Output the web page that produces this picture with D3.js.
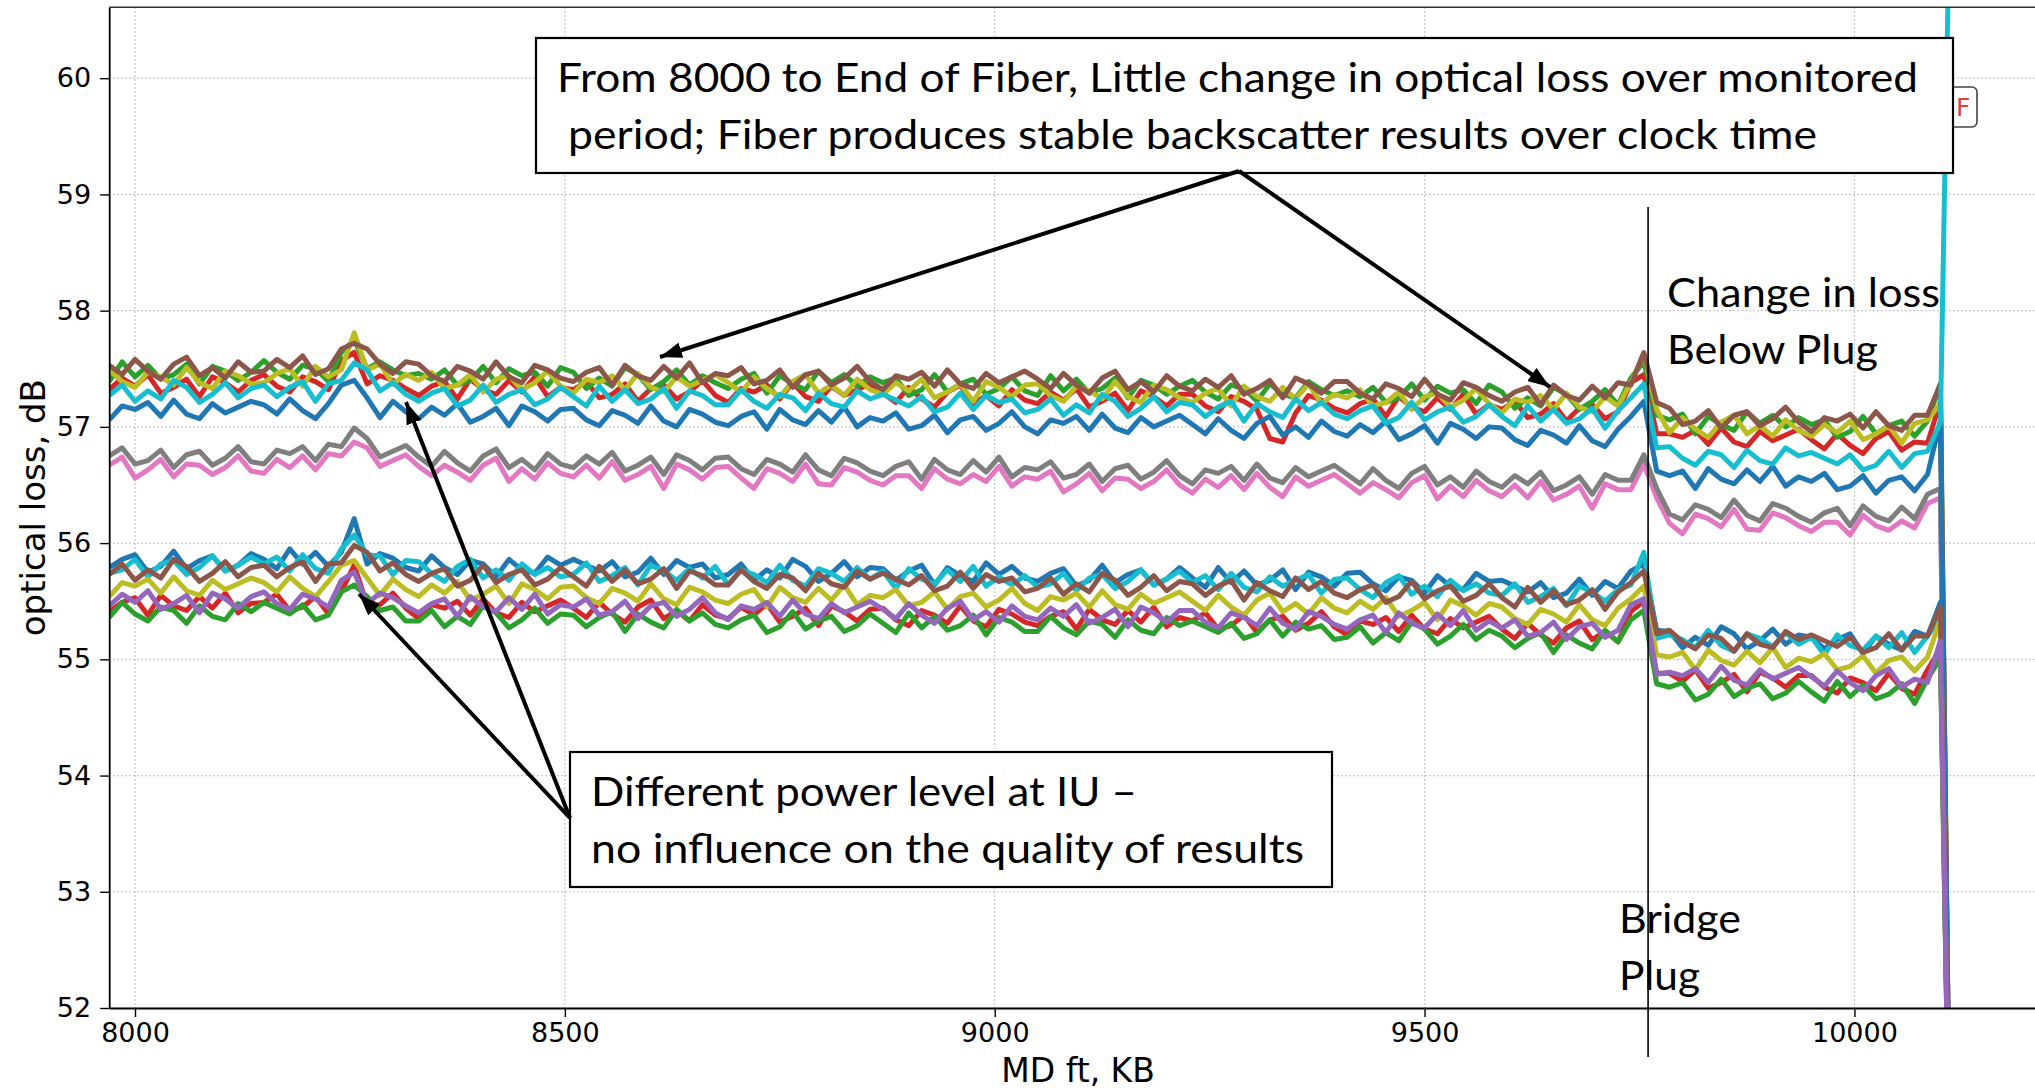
<!DOCTYPE html>
<html><head><meta charset="utf-8">
<script src="https://cdn.jsdelivr.net/npm/d3@7"></script>
<style>html,body{margin:0;padding:0;background:#fff;} svg{display:block;}</style>
</head><body>
<svg id="chart" width="2035" height="1090"></svg>
<script>
// ---------- DATA ----------
const depthStart = 7970, depthStep = 15, depthEnd = 10100, fiberEndDepth = 10112;
const depthFt = d3.range(depthStart, depthEnd + 1, depthStep).concat([fiberEndDepth]);
const xTicks = [8000, 8500, 9000, 9500, 10000];
const yTicks = [52, 53, 54, 55, 56, 57, 58, 59, 60];
const bridgePlugDepth = 9760;

const upperPink = [
56.67,56.74,56.56,56.63,56.72,56.57,56.68,56.67,56.59,56.65,56.75,56.62,
56.60,56.72,56.65,56.75,56.63,56.77,56.75,56.87,56.82,56.66,56.71,56.76,
56.66,56.58,56.67,56.61,56.54,56.67,56.73,56.53,56.64,56.55,56.69,56.60,
56.57,56.67,56.56,56.70,56.54,56.59,56.66,56.47,56.68,56.63,56.55,56.65,
56.66,56.56,56.47,56.64,56.60,56.53,56.68,56.51,56.50,56.65,56.61,56.54,
56.50,56.58,56.58,56.47,56.64,56.55,56.51,56.59,56.53,56.66,56.49,56.57,
56.55,56.62,56.44,56.51,56.60,56.45,56.56,56.55,56.47,56.53,56.63,56.50,
56.43,56.55,56.48,56.58,56.46,56.60,56.48,56.40,56.57,56.49,56.54,56.59,
56.51,56.43,56.52,56.46,56.39,56.52,56.58,56.38,56.49,56.40,56.54,56.45,
56.40,56.50,56.39,56.53,56.37,56.42,56.49,56.30,56.51,56.46,56.46,56.68,
56.39,56.17,56.08,56.25,56.21,56.14,56.29,56.12,56.11,56.26,56.22,56.15,
56.10,56.18,56.18,56.07,56.24,56.15,56.11,56.19,56.13,56.34,56.39,50];
const upperGray = [
56.75,56.82,56.68,56.71,56.80,56.65,56.76,56.79,56.67,56.73,56.83,56.70,
56.68,56.80,56.77,56.83,56.71,56.85,56.83,56.99,56.90,56.74,56.79,56.84,
56.74,56.66,56.79,56.69,56.62,56.75,56.81,56.65,56.72,56.63,56.77,56.68,
56.65,56.75,56.68,56.78,56.62,56.67,56.74,56.59,56.76,56.71,56.63,56.73,
56.74,56.64,56.59,56.72,56.68,56.61,56.76,56.63,56.58,56.73,56.69,56.62,
56.58,56.66,56.70,56.55,56.72,56.63,56.59,56.71,56.61,56.74,56.57,56.65,
56.63,56.70,56.56,56.59,56.68,56.53,56.64,56.67,56.55,56.61,56.71,56.58,
56.51,56.63,56.60,56.66,56.54,56.68,56.56,56.52,56.65,56.57,56.62,56.67,
56.59,56.51,56.64,56.54,56.47,56.60,56.66,56.50,56.57,56.48,56.62,56.53,
56.48,56.58,56.51,56.61,56.45,56.50,56.57,56.42,56.59,56.54,56.54,56.76,
56.47,56.25,56.20,56.33,56.29,56.22,56.37,56.24,56.19,56.34,56.30,56.23,
56.18,56.26,56.30,56.15,56.32,56.23,56.19,56.31,56.21,56.42,56.47,50];
const upperRed = [
57.32,57.42,57.35,57.45,57.29,57.34,57.41,57.26,57.43,57.38,57.30,57.40,
57.45,57.35,57.30,57.43,57.39,57.32,57.57,57.64,57.37,57.44,57.40,57.33,
57.27,57.35,57.39,57.24,57.41,57.32,57.28,57.40,57.30,57.43,57.26,57.34,
57.32,57.39,57.25,57.28,57.37,57.22,57.33,57.36,57.24,57.30,57.40,57.27,
57.21,57.33,57.30,57.36,57.24,57.38,57.26,57.22,57.35,57.27,57.32,57.37,
57.29,57.21,57.34,57.24,57.17,57.30,57.36,57.20,57.27,57.18,57.32,57.23,
57.20,57.30,57.23,57.33,57.17,57.22,57.29,57.14,57.31,57.26,57.18,57.28,
57.28,57.18,57.13,57.26,57.22,57.15,56.90,56.87,57.12,57.27,57.23,57.16,
57.12,57.20,57.24,57.09,57.26,57.17,57.13,57.25,57.15,57.28,57.11,57.19,
57.15,57.22,57.08,57.11,57.20,57.05,57.16,57.19,57.07,57.13,57.38,57.45,
56.94,56.94,56.91,56.97,56.85,56.99,56.87,56.83,56.96,56.88,56.93,56.98,
56.89,56.81,56.94,56.84,56.77,56.90,56.96,56.80,56.87,56.86,57.22,50];
const upperGreen = [
57.39,57.56,57.43,57.53,57.41,57.45,57.54,57.37,57.52,57.48,57.40,57.47,
57.57,57.47,57.41,57.53,57.50,57.39,57.64,57.75,57.50,57.56,57.49,57.44,
57.46,57.41,57.49,57.36,57.40,57.52,57.38,57.50,57.44,57.47,57.35,57.51,
57.47,57.33,57.42,57.35,57.51,57.45,57.32,57.39,57.49,57.36,57.44,57.38,
57.33,57.41,57.46,57.29,57.44,57.37,57.32,57.48,57.38,57.45,57.35,57.43,
57.38,57.42,57.27,57.32,57.45,57.30,57.37,57.41,57.28,57.33,57.43,57.31,
57.27,57.44,57.31,57.41,57.29,57.33,57.42,57.25,57.40,57.36,57.28,57.35,
57.40,57.30,57.24,57.36,57.33,57.22,57.37,57.28,57.25,57.39,57.32,57.27,
57.31,57.26,57.34,57.21,57.25,57.37,57.23,57.35,57.29,57.32,57.20,57.36,
57.30,57.16,57.25,57.18,57.34,57.28,57.15,57.22,57.32,57.19,57.42,57.56,
57.10,57.06,57.11,56.94,57.09,57.02,56.97,57.13,57.03,57.10,57.00,57.08,
57.02,57.06,56.91,56.96,57.09,56.94,57.01,57.05,56.92,57.05,57.37,50];
const upperOlive = [
57.49,57.39,57.34,57.47,57.43,57.36,57.51,57.38,57.33,57.48,57.44,57.37,
57.38,57.46,57.50,57.35,57.52,57.43,57.49,57.81,57.49,57.54,57.37,57.45,
57.40,57.47,57.33,57.36,57.45,57.30,57.41,57.44,57.32,57.38,57.48,57.35,
57.29,57.41,57.38,57.44,57.32,57.46,57.34,57.30,57.43,57.35,57.40,57.45,
57.38,57.30,57.43,57.33,57.26,57.39,57.45,57.29,57.36,57.27,57.41,57.32,
57.28,57.38,57.31,57.41,57.25,57.30,57.37,57.22,57.39,57.34,57.26,57.36,
57.37,57.27,57.22,57.35,57.31,57.24,57.39,57.26,57.21,57.36,57.32,57.25,
57.21,57.29,57.33,57.18,57.35,57.26,57.22,57.34,57.24,57.37,57.20,57.28,
57.25,57.32,57.18,57.21,57.30,57.15,57.26,57.29,57.17,57.23,57.33,57.20,
57.12,57.24,57.21,57.27,57.15,57.29,57.17,57.13,57.26,57.18,57.38,57.63,
57.15,56.95,57.08,56.98,56.91,57.04,57.10,56.94,57.01,56.92,57.06,56.97,
56.92,57.02,56.95,57.05,56.89,56.94,57.01,56.86,57.03,57.06,57.20,50];
const upperBrown = [
57.53,57.45,57.58,57.48,57.41,57.54,57.60,57.44,57.51,57.42,57.56,57.47,
57.48,57.58,57.51,57.61,57.45,57.50,57.67,57.72,57.67,57.54,57.46,57.56,
57.54,57.44,57.39,57.52,57.48,57.41,57.56,57.43,57.38,57.53,57.49,57.42,
57.39,57.47,57.51,57.36,57.53,57.44,57.40,57.52,57.42,57.55,57.38,57.46,
57.44,57.51,57.37,57.40,57.49,57.34,57.45,57.48,57.36,57.42,57.52,57.39,
57.32,57.44,57.41,57.47,57.35,57.49,57.37,57.33,57.46,57.38,57.43,57.48,
57.41,57.33,57.46,57.36,57.29,57.42,57.48,57.32,57.39,57.30,57.44,57.35,
57.31,57.41,57.34,57.44,57.28,57.33,57.40,57.25,57.42,57.37,57.29,57.39,
57.39,57.29,57.24,57.37,57.33,57.26,57.41,57.28,57.23,57.38,57.34,57.27,
57.22,57.30,57.34,57.19,57.36,57.27,57.23,57.35,57.25,57.38,57.36,57.64,
57.21,57.16,57.02,57.05,57.14,56.99,57.10,57.13,57.01,57.07,57.17,57.04,
56.96,57.08,57.05,57.11,56.99,57.13,57.01,56.97,57.10,57.10,57.37,50];
const upperBlue = [
57.06,57.18,57.15,57.21,57.09,57.23,57.11,57.07,57.20,57.12,57.17,57.22,
57.19,57.11,57.24,57.14,57.07,57.20,57.36,57.40,57.25,57.08,57.22,57.13,
57.07,57.17,57.10,57.20,57.04,57.09,57.16,57.01,57.18,57.13,57.05,57.15,
57.16,57.06,57.01,57.14,57.10,57.03,57.18,57.05,57.00,57.15,57.11,57.04,
57.01,57.09,57.13,56.98,57.15,57.06,57.02,57.14,57.04,57.17,57.00,57.08,
57.05,57.12,56.98,57.01,57.10,56.95,57.06,57.09,56.97,57.03,57.13,57.00,
56.94,57.06,57.03,57.09,56.97,57.11,56.99,56.95,57.08,57.00,57.05,57.10,
57.02,56.94,57.07,56.97,56.90,57.03,57.09,56.93,57.00,56.91,57.05,56.96,
56.92,57.02,56.95,57.05,56.89,56.94,57.01,56.86,57.03,56.98,56.90,57.00,
56.99,56.89,56.84,56.97,56.93,56.86,57.01,56.88,56.83,56.98,57.09,57.22,
56.62,56.58,56.62,56.47,56.64,56.55,56.51,56.63,56.53,56.66,56.49,56.57,
56.53,56.60,56.46,56.49,56.58,56.43,56.54,56.57,56.45,56.59,57.05,50];
const upperCyan = [
57.27,57.36,57.22,57.31,57.24,57.40,57.34,57.21,57.28,57.38,57.25,57.33,
57.36,57.26,57.34,57.39,57.22,57.37,57.40,57.55,57.49,57.31,57.38,57.28,
57.22,57.29,57.33,57.18,57.23,57.36,57.21,57.28,57.32,57.19,57.24,57.34,
57.26,57.18,57.35,57.22,57.32,57.20,57.24,57.33,57.16,57.31,57.27,57.19,
57.19,57.32,57.22,57.16,57.28,57.25,57.14,57.29,57.20,57.17,57.31,57.24,
57.28,57.23,57.18,57.26,57.13,57.17,57.29,57.15,57.27,57.21,57.24,57.12,
57.15,57.24,57.10,57.19,57.12,57.28,57.22,57.09,57.16,57.26,57.13,57.21,
57.19,57.09,57.17,57.22,57.05,57.20,57.13,57.08,57.24,57.14,57.21,57.11,
57.07,57.14,57.18,57.03,57.08,57.21,57.06,57.13,57.17,57.04,57.09,57.19,
57.09,57.01,57.18,57.05,57.15,57.03,57.07,57.16,56.99,57.14,57.25,57.37,
56.82,56.83,56.73,56.67,56.79,56.76,56.65,56.80,56.71,56.68,56.82,56.75,
56.78,56.73,56.68,56.76,56.63,56.67,56.79,56.65,56.77,56.79,57.04,62];

const lowerBlue = [
55.79,55.86,55.90,55.75,55.80,55.93,55.78,55.85,55.89,55.76,55.81,55.91,
55.86,55.78,55.95,55.82,55.92,55.80,55.92,56.21,55.82,55.91,55.87,55.79,
55.76,55.89,55.79,55.73,55.85,55.82,55.71,55.86,55.77,55.74,55.88,55.81,
55.86,55.81,55.76,55.84,55.71,55.75,55.87,55.73,55.85,55.79,55.82,55.70,
55.73,55.82,55.68,55.77,55.70,55.86,55.80,55.67,55.74,55.84,55.71,55.79,
55.78,55.68,55.76,55.81,55.64,55.79,55.72,55.67,55.83,55.73,55.80,55.70,
55.67,55.74,55.78,55.63,55.68,55.81,55.66,55.73,55.77,55.64,55.69,55.79,
55.70,55.62,55.79,55.66,55.76,55.64,55.68,55.77,55.60,55.75,55.71,55.63,
55.74,55.75,55.65,55.59,55.71,55.68,55.57,55.72,55.63,55.60,55.74,55.67,
55.68,55.63,55.58,55.66,55.53,55.57,55.69,55.55,55.67,55.61,55.76,55.82,
55.25,55.24,55.10,55.19,55.12,55.28,55.22,55.09,55.16,55.26,55.13,55.21,
55.19,55.09,55.17,55.22,55.05,55.20,55.13,55.08,55.24,55.20,55.49,50];
const lowerCyan = [
55.74,55.77,55.86,55.71,55.82,55.85,55.73,55.79,55.89,55.76,55.81,55.88,
55.82,55.88,55.76,55.90,55.78,55.74,55.95,56.07,55.90,55.89,55.73,55.85,
55.84,55.74,55.67,55.80,55.86,55.70,55.77,55.68,55.82,55.73,55.79,55.71,
55.73,55.83,55.67,55.72,55.79,55.64,55.81,55.76,55.68,55.78,55.70,55.80,
55.64,55.77,55.73,55.66,55.81,55.68,55.63,55.78,55.74,55.67,55.79,55.69,
55.76,55.61,55.78,55.69,55.65,55.77,55.67,55.80,55.63,55.71,55.64,55.72,
55.62,55.65,55.74,55.59,55.70,55.73,55.61,55.67,55.77,55.64,55.69,55.76,
55.66,55.72,55.60,55.74,55.62,55.58,55.71,55.63,55.68,55.73,55.57,55.69,
55.70,55.60,55.53,55.66,55.72,55.56,55.63,55.54,55.68,55.59,55.65,55.57,
55.55,55.65,55.49,55.54,55.61,55.46,55.63,55.58,55.50,55.60,55.64,55.92,
55.18,55.21,55.17,55.10,55.25,55.12,55.07,55.22,55.18,55.11,55.23,55.13,
55.19,55.04,55.21,55.12,55.08,55.20,55.10,55.23,55.06,55.20,55.35,50];
const lowerRed = [
55.41,55.49,55.53,55.38,55.55,55.46,55.42,55.54,55.44,55.57,55.40,55.48,
55.49,55.56,55.42,55.45,55.54,55.39,55.58,55.81,55.47,55.47,55.57,55.44,
55.35,55.47,55.44,55.50,55.38,55.52,55.40,55.36,55.49,55.41,55.46,55.51,
55.44,55.36,55.49,55.39,55.32,55.45,55.51,55.35,55.42,55.33,55.47,55.38,
55.35,55.45,55.38,55.48,55.32,55.37,55.44,55.29,55.46,55.41,55.33,55.43,
55.44,55.34,55.29,55.42,55.38,55.31,55.46,55.33,55.28,55.43,55.39,55.32,
55.29,55.37,55.41,55.26,55.43,55.34,55.30,55.42,55.32,55.45,55.28,55.36,
55.33,55.40,55.26,55.29,55.38,55.23,55.34,55.37,55.25,55.31,55.41,55.28,
55.21,55.33,55.30,55.36,55.24,55.38,55.26,55.22,55.35,55.27,55.32,55.37,
55.26,55.18,55.31,55.21,55.14,55.27,55.33,55.17,55.24,55.15,55.41,55.50,
54.88,54.88,54.81,54.91,54.75,54.80,54.87,54.72,54.89,54.84,54.76,54.86,
54.86,54.76,54.71,54.84,54.80,54.73,54.88,54.75,54.70,54.91,55.09,50];
const lowerGreen = [
55.36,55.49,55.39,55.33,55.45,55.42,55.31,55.46,55.37,55.34,55.48,55.41,
55.49,55.44,55.39,55.47,55.34,55.38,55.58,55.64,55.54,55.42,55.45,55.33,
55.33,55.42,55.28,55.37,55.30,55.46,55.40,55.27,55.34,55.44,55.31,55.39,
55.38,55.28,55.36,55.41,55.24,55.39,55.32,55.27,55.43,55.33,55.40,55.30,
55.27,55.34,55.38,55.23,55.28,55.41,55.26,55.33,55.37,55.24,55.29,55.39,
55.31,55.23,55.40,55.27,55.37,55.25,55.29,55.38,55.21,55.36,55.32,55.24,
55.24,55.37,55.27,55.21,55.33,55.30,55.19,55.34,55.25,55.22,55.36,55.29,
55.33,55.28,55.23,55.31,55.18,55.22,55.34,55.20,55.32,55.26,55.29,55.17,
55.19,55.28,55.14,55.23,55.16,55.32,55.26,55.13,55.20,55.30,55.17,55.25,
55.20,55.10,55.18,55.23,55.06,55.21,55.14,55.09,55.25,55.15,55.34,55.42,
54.79,54.76,54.80,54.65,54.70,54.83,54.68,54.75,54.79,54.66,54.71,54.81,
54.72,54.64,54.81,54.68,54.78,54.66,54.70,54.79,54.62,54.83,55.01,50];
const lowerOlive = [
55.54,55.66,55.63,55.69,55.57,55.71,55.59,55.55,55.68,55.60,55.65,55.70,
55.66,55.58,55.71,55.61,55.54,55.67,55.81,55.85,55.70,55.55,55.69,55.60,
55.54,55.64,55.57,55.67,55.51,55.56,55.63,55.48,55.65,55.60,55.52,55.62,
55.63,55.53,55.48,55.61,55.57,55.50,55.65,55.52,55.47,55.62,55.58,55.51,
55.48,55.56,55.60,55.45,55.62,55.53,55.49,55.61,55.51,55.64,55.47,55.55,
55.53,55.60,55.46,55.49,55.58,55.43,55.54,55.57,55.45,55.51,55.61,55.48,
55.42,55.54,55.51,55.57,55.45,55.59,55.47,55.43,55.56,55.48,55.53,55.58,
55.50,55.42,55.55,55.45,55.38,55.51,55.57,55.41,55.48,55.39,55.53,55.44,
55.40,55.50,55.43,55.53,55.37,55.42,55.49,55.34,55.51,55.46,55.38,55.48,
55.45,55.35,55.30,55.43,55.39,55.32,55.47,55.34,55.29,55.44,55.52,55.63,
55.04,55.02,55.06,54.91,55.08,54.99,54.95,55.07,54.97,55.10,54.93,55.01,
54.98,55.05,54.91,54.94,55.03,54.88,54.99,55.02,54.90,55.02,55.34,50];
const lowerBrown = [
55.73,55.82,55.68,55.77,55.70,55.86,55.80,55.67,55.74,55.84,55.71,55.79,
55.81,55.71,55.79,55.84,55.67,55.82,55.83,55.98,55.92,55.76,55.83,55.73,
55.67,55.74,55.78,55.63,55.68,55.81,55.66,55.73,55.77,55.64,55.69,55.79,
55.71,55.63,55.80,55.67,55.77,55.65,55.69,55.78,55.61,55.76,55.72,55.64,
55.64,55.77,55.67,55.61,55.73,55.70,55.59,55.74,55.65,55.62,55.76,55.69,
55.74,55.69,55.64,55.72,55.59,55.63,55.75,55.61,55.73,55.67,55.70,55.58,
55.61,55.70,55.56,55.65,55.58,55.74,55.68,55.55,55.62,55.72,55.59,55.67,
55.65,55.55,55.63,55.68,55.51,55.66,55.59,55.54,55.70,55.60,55.67,55.57,
55.53,55.60,55.64,55.49,55.54,55.67,55.52,55.59,55.63,55.50,55.55,55.65,
55.53,55.45,55.62,55.49,55.59,55.47,55.51,55.60,55.43,55.58,55.66,55.76,
55.22,55.25,55.15,55.09,55.21,55.18,55.07,55.22,55.13,55.10,55.24,55.17,
55.21,55.16,55.11,55.19,55.06,55.10,55.22,55.08,55.20,55.20,55.45,50];
const lowerPurple = [
55.46,55.56,55.49,55.59,55.43,55.48,55.55,55.40,55.57,55.52,55.44,55.54,
55.58,55.48,55.43,55.56,55.52,55.45,55.68,55.75,55.48,55.57,55.53,55.46,
55.40,55.48,55.52,55.37,55.54,55.45,55.41,55.53,55.43,55.56,55.39,55.47,
55.45,55.52,55.38,55.41,55.50,55.35,55.46,55.49,55.37,55.43,55.53,55.40,
55.34,55.46,55.43,55.49,55.37,55.51,55.39,55.35,55.48,55.40,55.45,55.50,
55.43,55.35,55.48,55.38,55.31,55.44,55.50,55.34,55.41,55.32,55.46,55.37,
55.34,55.44,55.37,55.47,55.31,55.36,55.43,55.28,55.45,55.40,55.32,55.42,
55.42,55.32,55.27,55.40,55.36,55.29,55.44,55.31,55.26,55.41,55.37,55.30,
55.26,55.34,55.38,55.23,55.40,55.31,55.27,55.39,55.29,55.42,55.25,55.33,
55.27,55.34,55.20,55.23,55.32,55.17,55.28,55.31,55.19,55.25,55.47,55.52,
54.87,54.89,54.86,54.92,54.80,54.94,54.82,54.78,54.91,54.83,54.88,54.93,
54.85,54.77,54.90,54.80,54.73,54.86,54.92,54.76,54.83,54.80,55.16,50];

const seriesList = [
  {name: 'upperPink',   color: '#e377c2', values: upperPink},
  {name: 'upperGray',   color: '#7f7f7f', values: upperGray},
  {name: 'upperRed',    color: '#d62728', values: upperRed},
  {name: 'upperGreen',  color: '#2ca02c', values: upperGreen},
  {name: 'upperOlive',  color: '#bcbd22', values: upperOlive},
  {name: 'upperBrown',  color: '#8c564b', values: upperBrown},
  {name: 'upperBlue',   color: '#1f77b4', values: upperBlue},
  {name: 'upperCyan',   color: '#17becf', values: upperCyan},
  {name: 'lowerBlue',   color: '#1f77b4', values: lowerBlue},
  {name: 'lowerCyan',   color: '#17becf', values: lowerCyan},
  {name: 'lowerRed',    color: '#d62728', values: lowerRed},
  {name: 'lowerGreen',  color: '#2ca02c', values: lowerGreen},
  {name: 'lowerOlive',  color: '#bcbd22', values: lowerOlive},
  {name: 'lowerBrown',  color: '#8c564b', values: lowerBrown},
  {name: 'lowerPurple', color: '#9467bd', values: lowerPurple}
];

// ---------- CHART ----------
const W = 2035, H = 1090;
const plot = {left: 109.2, right: 2047, top: 7.3, bottom: 1008};
const svg = d3.select('#chart');
const x = d3.scaleLinear().domain([7970, 10224]).range([plot.left, plot.right]);
const y = d3.scaleLinear().domain([52, 60.61]).range([plot.bottom, plot.top]);

svg.append('rect').attr('width', W).attr('height', H).attr('fill', '#fff');

const defs = svg.append('defs');
defs.append('clipPath').attr('id', 'plotClip').append('rect')
  .attr('x', plot.left).attr('y', plot.top)
  .attr('width', plot.right - plot.left).attr('height', plot.bottom - plot.top);
defs.append('marker').attr('id', 'arrowHead')
  .attr('viewBox', '0 0 22 16').attr('refX', 22).attr('refY', 8)
  .attr('markerWidth', 22).attr('markerHeight', 16)
  .attr('markerUnits', 'userSpaceOnUse').attr('orient', 'auto')
  .append('path').attr('d', 'M0,0 L22,8 L0,16 Z').attr('fill', '#000');

// grid
const gridStyle = sel => sel.attr('stroke', '#b5b5b5').attr('stroke-width', 1.2)
  .attr('stroke-dasharray', '1.5,2.5').attr('fill', 'none');
svg.append('g').selectAll('line').data(xTicks).join('line')
  .attr('x1', d => x(d)).attr('x2', d => x(d))
  .attr('y1', plot.top).attr('y2', plot.bottom).call(gridStyle);
svg.append('g').selectAll('line').data(yTicks).join('line')
  .attr('x1', plot.left).attr('x2', plot.right)
  .attr('y1', d => y(d)).attr('y2', d => y(d)).call(gridStyle);

// series
const line = d3.line().x((d, i) => x(depthFt[i])).y(d => y(d));
svg.append('g').attr('clip-path', 'url(#plotClip)')
  .selectAll('path').data(seriesList).join('path')
  .attr('d', d => line(d.values))
  .attr('fill', 'none').attr('stroke', d => d.color)
  .attr('stroke-width', 5).attr('stroke-linejoin', 'round').attr('stroke-linecap', 'butt');

// axes
const tickFont = 'DejaVu Sans, sans-serif';
const gx = svg.append('g').attr('transform', `translate(0,${plot.bottom})`)
  .call(d3.axisBottom(x).tickValues(xTicks).tickFormat(d3.format('d'))
    .tickSize(9).tickSizeOuter(0).tickPadding(6));
const gy = svg.append('g').attr('transform', `translate(${plot.left},0)`)
  .call(d3.axisLeft(y).tickValues(yTicks).tickFormat(d3.format('d'))
    .tickSize(9).tickSizeOuter(0).tickPadding(9));
[gx, gy].forEach(g => {
  g.select('.domain').attr('stroke', '#000').attr('stroke-width', 1.8);
  g.selectAll('.tick line').attr('stroke', '#000').attr('stroke-width', 1.4);
  g.selectAll('.tick text').attr('fill', '#000')
    .style('font-family', tickFont).style('font-size', '27px');
});
svg.append('line').attr('x1', plot.left).attr('x2', plot.right)
  .attr('y1', plot.top).attr('y2', plot.top)
  .attr('stroke', '#333').attr('stroke-width', 1.6);

svg.append('text').attr('x', (plot.left + plot.right) / 2).attr('y', 1082)
  .attr('text-anchor', 'middle').style('font-family', tickFont).style('font-size', '33px')
  .text('MD ft, KB');
svg.append('text').attr('transform', `translate(33,${(plot.top + plot.bottom) / 2}) rotate(-90)`)
  .attr('text-anchor', 'middle').attr('dominant-baseline', 'central')
  .style('font-family', tickFont).style('font-size', '34px')
  .text('optical loss, dB');

// bridge plug marker line
svg.append('line').attr('x1', x(bridgePlugDepth)).attr('x2', x(bridgePlugDepth))
  .attr('y1', 207).attr('y2', 1057).attr('stroke', '#000').attr('stroke-width', 1.6);

// annotation layer
const noteFont = 'Lato, "Open Sans", sans-serif';
function note(txt, xx, yy, len) {
  const t = svg.append('text').attr('x', xx).attr('y', yy)
    .style('font-family', noteFont).style('font-size', '41px').attr('fill', '#000').text(txt);
  if (len) t.attr('textLength', len).attr('lengthAdjust', 'spacingAndGlyphs');
  return t;
}
// small "F" box (partially hidden)
svg.append('rect').attr('x', 1925).attr('y', 87).attr('width', 52).attr('height', 40)
  .attr('rx', 5).attr('fill', '#fff').attr('stroke', '#444').attr('stroke-width', 1.6);
svg.append('text').attr('x', 1956).attr('y', 116).style('font-family', tickFont)
  .style('font-size', '25px').attr('fill', '#e0403f').text('F');

svg.append('rect').attr('x', 536).attr('y', 38).attr('width', 1417).attr('height', 135)
  .attr('fill', '#fff').attr('stroke', '#000').attr('stroke-width', 2.2);
note('From 8000 to End of Fiber, Little change in optical loss over monitored', 557, 92, 1361);
note('period; Fiber produces stable backscatter results over clock time', 568, 149, 1249);

svg.append('rect').attr('x', 570).attr('y', 752).attr('width', 762).attr('height', 135)
  .attr('fill', '#fff').attr('stroke', '#000').attr('stroke-width', 2.2);
note('Different power level at IU \u2013', 591, 806, 546);
note('no influence on the quality of results', 591, 863, 713);

note('Change in loss', 1667, 307, 273);
note('Below Plug', 1667, 364, 211);
note('Bridge', 1619, 933, 122);
note('Plug', 1619, 990, 81);

// arrows
const arrows = [
  [[1239, 171], [660, 357]],
  [[1239, 171], [1550, 387]],
  [[570, 818], [359, 594]],
  [[570, 818], [406, 402]]
];
svg.append('g').selectAll('line').data(arrows).join('line')
  .attr('x1', d => d[0][0]).attr('y1', d => d[0][1])
  .attr('x2', d => d[1][0]).attr('y2', d => d[1][1])
  .attr('stroke', '#000').attr('stroke-width', 4).attr('marker-end', 'url(#arrowHead)');
</script>
</body></html>
